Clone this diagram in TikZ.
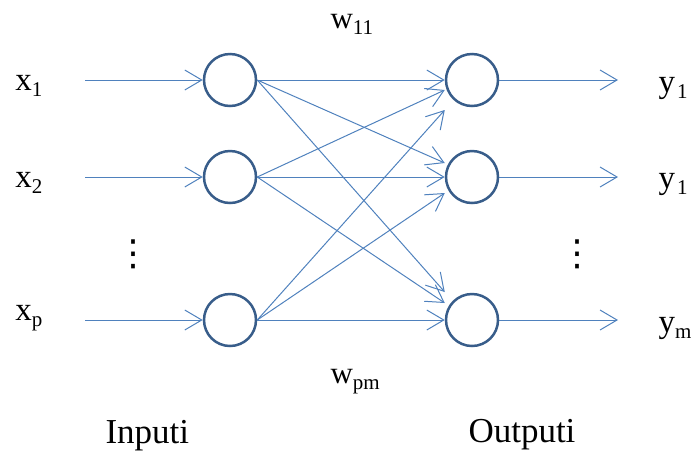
\documentclass[tikz,border=0pt]{standalone}
\usepackage{fontspec}
\setmainfont{Liberation Serif}
\newfontfamily\symfont{DejaVu Sans}
\usetikzlibrary{arrows.meta,calc}
\definecolor{linkblue}{RGB}{79,129,189}
\definecolor{ringblue}{RGB}{56,93,138}
\newcommand\lo[1]{\raisebox{-0.2em}{\fontsize{21}{21}\selectfont #1}}

\begin{document}
\begin{tikzpicture}[x=1pt,y=-1pt,-{Straight Barb[length=17pt,width=20pt]},
                    line width=1pt]

  \tikzstyle{neuron}=[circle,draw=ringblue,line width=2.5pt,minimum size=52pt,inner sep=0pt]
  \tikzstyle{lbl}=[anchor=base west,inner sep=0pt,font=\fontsize{33}{36}\selectfont]
  \tikzstyle{dots}=[inner sep=0pt,font=\symfont\fontsize{36}{38}\selectfont]

  \useasboundingbox (0,0) rectangle (695,451);

  \node[neuron] (I1) at (230,80)  {};
  \node[neuron] (I2) at (230,177) {};
  \node[neuron] (I3) at (230,320) {};
  \node[neuron] (O1) at (472,80)  {};
  \node[neuron] (O2) at (472,177) {};
  \node[neuron] (O3) at (472,320) {};

  \coordinate (S1) at (85,80);
  \coordinate (S2) at (85,177);
  \coordinate (S3) at (85,320);
  \coordinate (T1) at (618,80);
  \coordinate (T2) at (618,177);
  \coordinate (T3) at (618,320);

  \node[lbl] (X1)  at (15,90)   {x\lo{1}};
  \node[lbl] (X2)  at (15,187)  {x\lo{2}};
  \node[lbl] (XP)  at (15,320)  {x\lo{p}};
  \node[lbl] (Y1)  at (658,92)  {y\kern2pt\lo{1}};
  \node[lbl] (Y2)  at (658,188) {y\kern2pt\lo{1}};
  \node[lbl] (YM)  at (658,332) {y\lo{m}};
  \node[lbl,font=\fontsize{31}{34}\selectfont] (W11) at (330,28)  {w\lo{11}};
  \node[lbl,font=\fontsize{31}{34}\selectfont] (WPM) at (330,383) {w\lo{pm}};
  \node[lbl,font=\fontsize{35}{38}\selectfont] (IN)  at (105,443) {Inputi};
  \node[lbl,font=\fontsize{35}{38}\selectfont] (OUT) at (468,442) {Outputi};
  \node[dots] (DL) at (133,254) {⋮};
  \node[dots] (DR) at (577,254) {⋮};

  \foreach \k in {1,2,3} {
    \draw[linkblue] (S\k) -- (I\k.west);
    \draw[linkblue] (O\k.east) -- (T\k);
  }

  % weights: end points spread along the left side of each output
  \foreach \i/\j/\d in {1/1/0,2/1/10,3/1/30,1/2/-14,2/2/0,3/2/16,1/3/-28,2/3/-17,3/3/0}
    \draw[linkblue] (I\i.east) -- ($(O\j.west)+(0,\d)$);
\end{tikzpicture}
\end{document}
